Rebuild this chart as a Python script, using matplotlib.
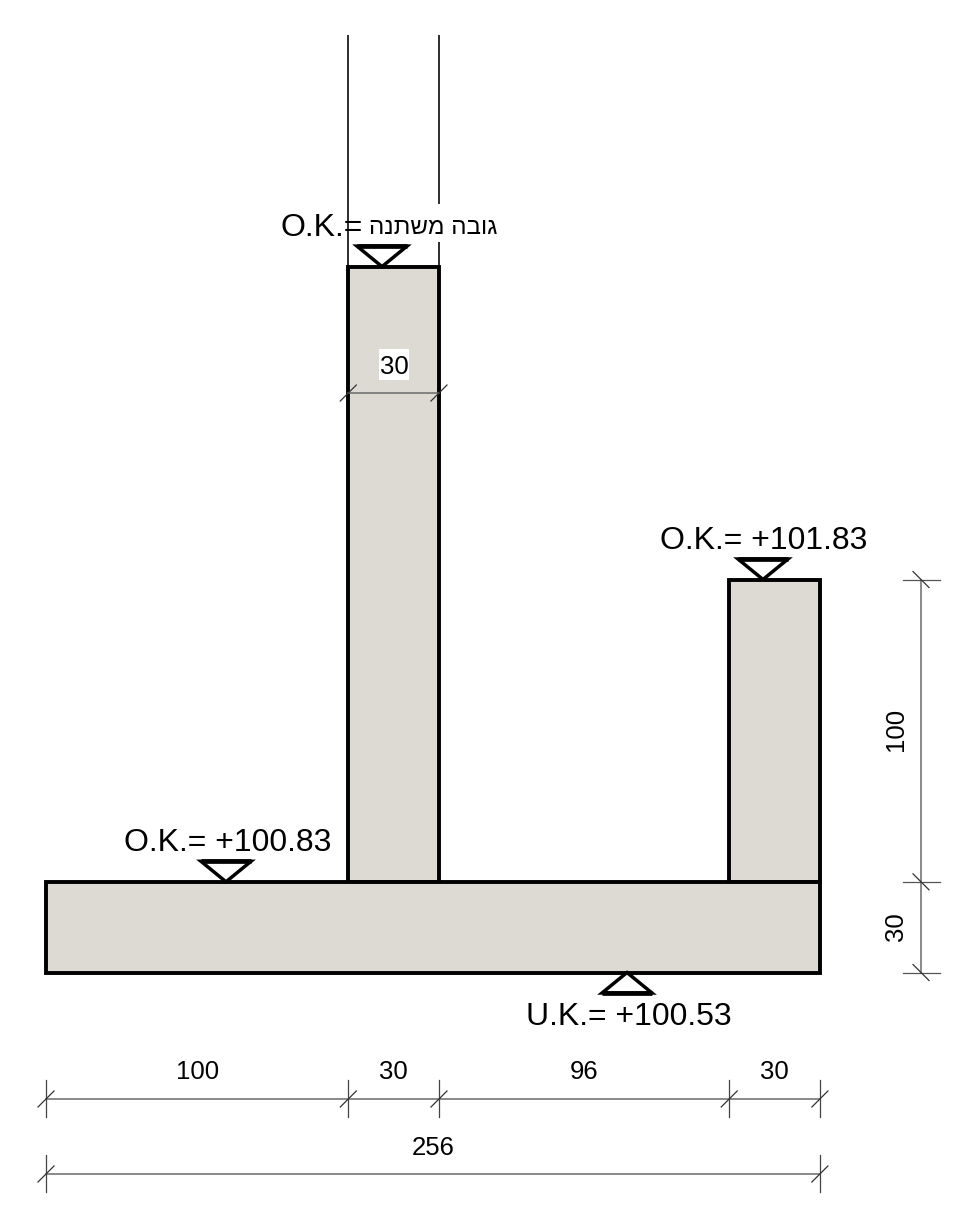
import matplotlib
matplotlib.use("Agg")
import matplotlib.pyplot as plt
from matplotlib.patches import Polygon, Rectangle

# ---- data (cm) ----
span_widths = [100, 30, 96, 30]
total_width = 256
slab_thickness = 30
short_wall_height = 100
tall_wall_height = 203.5
wall_thickness = 30
level_labels_ok = ["O.K.= +101.83", "O.K.= +100.83"]
level_label_uk = "U.K.= +100.53"
variable_prefix = "O.K.="
variable_hebrew = "גובה משתנה"

# ---- layout ----
W, H = 956, 1205
S = 3.023
X0, Y0 = 46, 972.5
FILL = "#dcdad3"
DIM = "#6a6a6a"
FONT = "Liberation Sans"
THICK = 2.8


def cx(p):
    return (p - X0) / S


def cy(p):
    return (Y0 - p) / S


fig = plt.figure(figsize=(W / 100, H / 100), dpi=100, facecolor="white")
ax = fig.add_axes([0, 0, 1, 1])
ax.set_xlim(cx(0), cx(W))
ax.set_ylim(cy(H), cy(0))
ax.axis("off")

x_wall_a = span_widths[0]
x_wall_b = sum(span_widths[:3])


def body(x, y, w, h, z=2):
    ax.add_patch(Rectangle((x, y), w, h, facecolor=FILL, edgecolor="black",
                           lw=THICK, joinstyle="miter", zorder=z))


body(x_wall_a, slab_thickness, wall_thickness, tall_wall_height)
body(x_wall_b, slab_thickness, wall_thickness, short_wall_height)
body(0, 0, total_width, slab_thickness, z=3)

# thin lines continuing above the tall wall (the right one is interrupted by the label)
wall_top = slab_thickness + tall_wall_height
LINE = dict(color="black", lw=1.15, solid_capstyle="butt", zorder=1)
ax.plot([x_wall_a, x_wall_a], [wall_top, cy(35)], **LINE)
x_right = x_wall_a + wall_thickness
ax.plot([x_right, x_right], [wall_top, cy(242)], **LINE)
ax.plot([x_right, x_right], [cy(204), cy(35)], **LINE)


def label(px, py, s, size=18.5, rot=0, ha="center", z=6):
    ax.text(cx(px), cy(py), s, fontsize=size, family=FONT, ha=ha, va="center_baseline",
            rotation=rot, rotation_mode="anchor", color="black", zorder=z)


def marker(xdata, ydata, up=False):
    w, h = 25 / S, 20.5 / S
    base = ydata - h if up else ydata + h
    ax.add_patch(Polygon([(xdata - w, base), (xdata + w, base), (xdata, ydata)], closed=True,
                         facecolor="white", edgecolor="black", lw=2.5,
                         joinstyle="miter", zorder=5))
    # heavier flat side of the level symbol
    ax.plot([xdata - w, xdata + w], [base, base], color="black", lw=3.4,
            solid_capstyle="butt", zorder=5)


# level markers and labels
marker(cx(382), wall_top)
marker(cx(763), slab_thickness + short_wall_height)
marker(cx(226), slab_thickness)
marker(cx(627), 0, up=True)
label(660, 537.5, level_labels_ok[0], 23, ha="left")
label(124, 839.5, level_labels_ok[1], 23, ha="left")
label(526, 1013.5, level_label_uk, 23, ha="left")
label(280, 224.5, variable_prefix, 23, ha="left")
label(369, 226, variable_hebrew[::-1], 17.4, ha="left")


def hdim(px_y, xs, tick=True):
    y = cy(px_y)
    ax.plot([xs[0], xs[-1]], [y, y], color=DIM, lw=1.1, zorder=7)
    for x in xs:
        if tick:
            ax.plot([x, x], [y + 19 / S, y - 18 / S], color="#444444", lw=0.9, zorder=7)
        ax.plot([x - 8 / S, x + 8 / S], [y - 8 / S, y + 8 / S], color="#333333", lw=0.9, zorder=7)


def vdim(px_x, ys):
    x = cx(px_x)
    ax.plot([x, x], [ys[0], ys[-1]], color=DIM, lw=1.1, zorder=7)
    for y in ys:
        ax.plot([x - 18 / S, x + 19 / S], [y, y], color="#555555", lw=0.9, zorder=7)
        ax.plot([x - 8 / S, x + 8 / S], [y + 8 / S, y - 8 / S], color="#333333", lw=0.9, zorder=7)


# chain dimensions
edges = [0]
for w in span_widths:
    edges.append(edges[-1] + w)
hdim(1099, edges)
for w, a, b in zip(span_widths, edges[:-1], edges[1:]):
    px = 197.5 if a == 0 else X0 + (a + b) / 2 * S
    label(px, 1069.5, str(w))
hdim(1174, [0, total_width])
label(433, 1145.5, str(total_width))

# wall thickness dimension
hdim(393, [x_wall_a, x_wall_a + wall_thickness], tick=False)
ax.add_patch(Rectangle((cx(379), cy(380)), 30 / S, 31 / S, facecolor="white",
                       edgecolor="none", zorder=5))
label(394, 365, str(wall_thickness))

# right-hand vertical dimensions
vdim(921, [0, slab_thickness, slab_thickness + short_wall_height])
label(893, 729, str(short_wall_height), rot=90)
label(893, 927, str(slab_thickness), rot=90)

fig.savefig("out.png", dpi=100, facecolor="white")
